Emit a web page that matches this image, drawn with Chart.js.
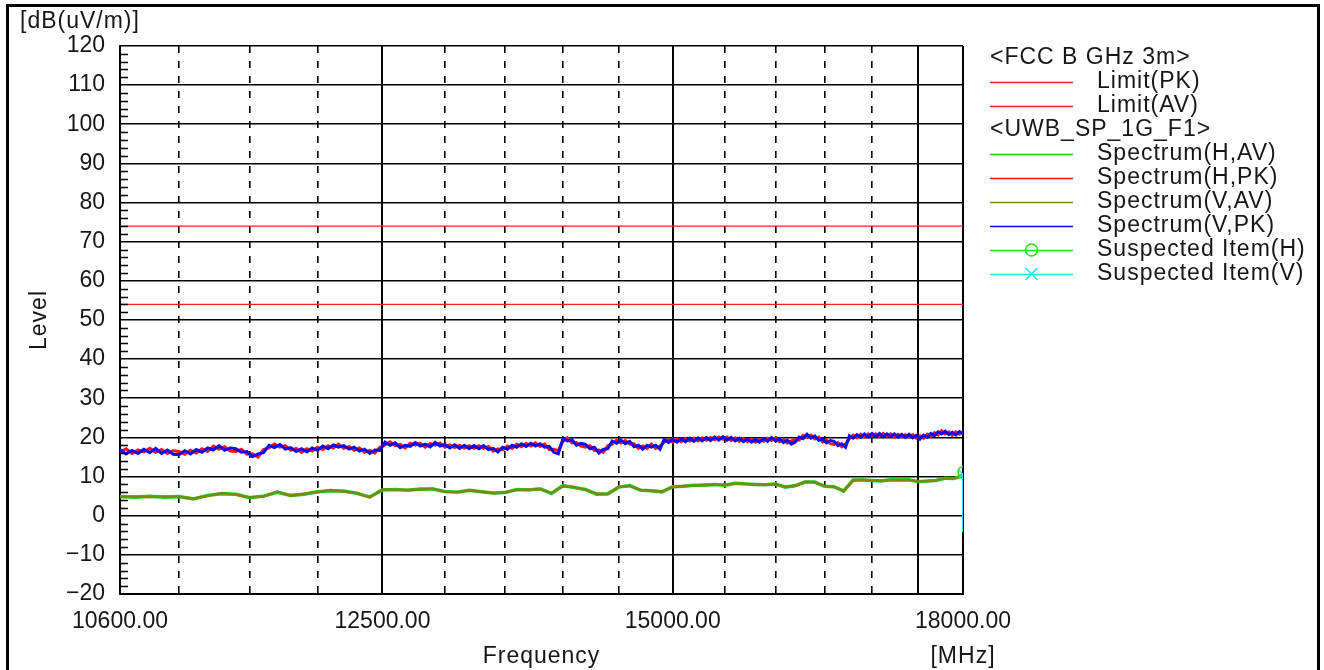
<!DOCTYPE html>
<html>
<head>
<meta charset="utf-8">
<title>Spectrum 10.6 - 18 GHz</title>
<script src="https://cdn.jsdelivr.net/npm/chart.js@4.4.0/dist/chart.umd.min.js"></script>
<style>
  html, body { margin: 0; padding: 0; background: #fff; }
  body { width: 1324px; height: 670px; overflow: hidden; position: relative; }
  #frame { position: absolute; left: 6px; top: 4px; width: 1308px; height: 700px; border: 3px solid #000; }
  #wrap { position: absolute; left: 0; top: 0; width: 1324px; height: 670px; }
</style>
</head>
<body>
<div id="frame"></div>
<div id="wrap"><canvas id="chart" width="1324" height="670"></canvas></div>
<script>
(function () {
  'use strict';

  // ── Data ──────────────────────────────────────────────────────────
  var sweepStart = 10600;   // MHz
  var pkStep = 40;          // MHz between peak-detector samples
  var avStep = 100;         // MHz between average-detector samples

  var xGridValues = [10600, 11000, 11500, 12000, 12500, 13000, 13500, 14000, 14500,
    15000, 15500, 16000, 16500, 17000, 17500, 18000];
  var xLabelValues = [10600, 12500, 15000, 18000];
  var xMajorValues = [10600, 12500, 15000, 17500, 18000];

  var limitPK = 74;
  var limitAV = 54;

  var specVPK = [
    16.9, 15.8, 16.7, 15.9, 17.0, 16.1, 17.2, 15.9, 16.8, 15.7,
    15.6, 16.6, 15.8, 16.9, 16.2, 17.3, 16.8, 17.9, 16.7, 17.3,
    17.1, 16.2, 16.4, 15.1, 15.8, 16.1, 18.0, 17.4, 18.2, 17.0,
    17.4, 16.4, 17.1, 16.3, 17.3, 16.7, 17.8, 17.1, 18.1, 17.5,
    17.9, 17.0, 17.5, 16.5, 17.0, 15.9, 16.8, 16.7, 18.8, 18.0,
    18.6, 17.4, 18.0, 17.7, 18.7, 17.8, 18.3, 17.6, 18.7, 17.8,
    18.2, 17.3, 18.1, 17.2, 18.0, 17.1, 17.9, 17.1, 17.9, 16.9,
    17.2, 16.3, 17.5, 17.0, 18.0, 17.5, 18.4, 17.7, 18.5, 17.8,
    18.4, 17.5, 17.7, 16.2, 15.8, 19.7, 19.1, 19.4, 18.0, 18.5,
    18.2, 17.1, 17.5, 16.0, 17.0, 17.1, 19.1, 18.5, 19.3, 18.4,
    19.0, 17.6, 18.0, 17.0, 18.0, 17.5, 18.0, 17.0, 19.5, 18.7,
    19.5, 18.8, 19.7, 18.9, 19.8, 19.0, 19.9, 19.1, 20.0, 19.2,
    20.1, 19.3, 20.2, 19.3, 20.0, 19.1, 19.8, 18.9, 19.6, 18.8,
    19.5, 18.8, 19.7, 19.0, 20.0, 19.1, 19.7, 18.7, 19.3, 18.3,
    18.8, 20.1, 19.7, 20.8, 19.8, 20.4, 19.3, 19.6, 18.6, 19.2,
    19.0, 17.9, 18.4, 17.5, 20.4, 19.8, 20.7, 20.0, 20.9, 20.1,
    21.0, 20.2, 21.0, 20.2, 20.9, 20.2, 20.9, 20.1, 20.8, 20.0,
    20.8, 19.9, 20.5, 19.6, 20.6, 20.0, 21.0, 20.4, 21.4, 20.9,
    21.6, 20.7, 21.3, 20.6, 21.5, 20.9
  ];

  var specHPK = [
    16.2, 17.1, 15.9, 16.8, 16.3, 17.2, 16.2, 16.9, 15.9, 16.6,
    16.4, 15.7, 16.7, 16.0, 17.1, 16.4, 17.8, 17.0, 17.6, 16.5,
    16.4, 17.0, 15.7, 15.8, 15.0, 16.9, 17.3, 18.3, 17.5, 17.9,
    16.7, 17.2, 16.2, 17.1, 16.5, 17.5, 16.9, 17.9, 17.3, 18.3,
    17.2, 17.7, 16.7, 17.3, 16.2, 16.7, 16.0, 17.5, 18.1, 18.9,
    17.9, 18.2, 17.3, 18.5, 18.0, 18.5, 17.5, 18.4, 18.0, 18.6,
    17.5, 18.1, 17.4, 18.0, 17.3, 17.9, 17.2, 17.9, 17.2, 17.7,
    16.5, 17.1, 16.8, 17.8, 17.2, 18.3, 17.6, 18.5, 17.8, 18.6,
    17.7, 18.3, 16.9, 17.0, 16.6, 19.0, 19.9, 18.6, 18.7, 17.8,
    17.5, 17.9, 16.7, 16.8, 16.2, 17.9, 18.3, 19.3, 18.6, 19.2,
    18.3, 18.4, 17.2, 17.8, 17.2, 18.3, 17.2, 17.8, 18.8, 19.5,
    18.8, 19.6, 18.9, 19.7, 19.1, 19.8, 19.1, 19.9, 19.3, 20.0,
    19.4, 20.1, 19.5, 20.1, 19.2, 19.9, 19.0, 19.7, 18.9, 19.6,
    18.8, 19.5, 19.0, 19.8, 19.2, 19.9, 18.9, 19.5, 18.6, 19.1,
    19.5, 19.3, 20.5, 20.0, 20.6, 19.6, 20.1, 18.8, 19.4, 18.4,
    18.2, 18.7, 17.6, 18.3, 19.7, 20.6, 19.9, 20.8, 20.1, 20.9,
    20.3, 20.9, 20.2, 21.0, 20.3, 20.9, 20.1, 20.8, 20.1, 20.7,
    20.1, 20.7, 19.8, 20.4, 19.8, 20.8, 20.2, 21.2, 20.6, 21.7,
    20.9, 21.4, 20.5, 21.4, 20.8, 21.4
  ];

  var specVAV = [
    4.8, 4.9, 4.8, 4.9, 4.8, 4.4, 5.0, 5.8, 5.4, 4.7,
    4.9, 6.2, 5.1, 5.6, 6.0, 6.6, 6.2, 5.8, 4.7, 6.8,
    6.6, 6.6, 6.7, 6.9, 6.1, 6.1, 6.4, 6.2, 5.7, 6.0,
    6.6, 6.7, 6.8, 5.8, 7.5, 7.3, 6.6, 5.6, 5.5, 7.4,
    7.6, 6.6, 6.3, 6.2, 7.3, 7.6, 7.7, 7.9, 7.9, 7.9,
    8.2, 8.2, 7.9, 8.0, 8.0, 7.4, 7.6, 8.7, 8.5, 7.6,
    7.3, 6.4, 9.0, 9.2, 8.9, 9.0, 9.1, 9.2, 9.1, 8.8,
    8.8, 9.1, 9.5, 9.6, 9.9
  ];

  var specHAV = [
    4.9, 4.7, 5.0, 4.7, 4.9, 4.3, 5.2, 5.6, 5.5, 4.6,
    5.0, 6.0, 5.2, 5.5, 6.1, 6.4, 6.3, 5.7, 4.8, 6.6,
    6.7, 6.5, 6.8, 6.8, 6.2, 6.0, 6.5, 6.1, 5.8, 5.9,
    6.7, 6.6, 6.9, 5.7, 7.7, 7.2, 6.7, 5.5, 5.6, 7.3,
    7.7, 6.5, 6.4, 6.1, 7.4, 7.5, 7.8, 7.8, 8.0, 7.8,
    8.3, 8.1, 8.0, 7.9, 8.1, 7.3, 7.7, 8.6, 8.6, 7.5,
    7.4, 6.3, 9.1, 9.1, 9.0, 8.9, 9.2, 9.1, 9.2, 8.7,
    8.9, 9.0, 9.6, 9.5, 10.4
  ];

  // suspected items found at the band edge
  var suspectH = [{ x: 18000, y: 11.2 }];
  var suspectV = [{ x: 18000, y: 10.6 }, { x: 18000, y: -4.2 }];

  var legendGroups = ['<FCC B GHz 3m>', '<UWB_SP_1G_F1>'];

  var textColor = '#161616';
  var fontFamily = '"Liberation Sans", Arial, sans-serif';

  /** Pair a value list with the analyzer sweep frequencies */
  function sweep(values, step) {
    return values.map(function (v, i) { return { x: sweepStart + i * step, y: v }; });
  }

  /** Horizontal line across the whole span */
  function flat(v) {
    return [{ x: xGridValues[0], y: v }, { x: xGridValues[xGridValues.length - 1], y: v }];
  }

  function isMajorX(v) {
    return xMajorValues.indexOf(v) >= 0;
  }

  // ── Extra drawing: minor ticks, legend, unit labels ──────────────
  var decorations = {
    id: 'decorations',
    afterDraw: function (chart) {
      var ctx = chart.ctx;
      var area = chart.chartArea;
      var ys = chart.scales.y;

      ctx.save();

      // minor ticks inside the left axis
      ctx.strokeStyle = '#000';
      ctx.lineWidth = 1.5;
      ys.ticks.forEach(function (t) {
        if (t.value % 10 === 0) return;
        var py = Math.round(ys.getPixelForValue(t.value)) + 0.5;
        ctx.beginPath();
        ctx.moveTo(area.left, py);
        ctx.lineTo(area.left + 8, py);
        ctx.stroke();
      });

      ctx.fillStyle = textColor;
      ctx.font = '23px ' + fontFamily;
      ctx.textBaseline = 'middle';
      ctx.letterSpacing = '1px';

      // unit labels and axis titles
      ctx.textAlign = 'left';
      ctx.fillText('[dB(uV/m)]', 20, 22);
      ctx.textAlign = 'center';
      ctx.fillText('Frequency', (area.left + area.right) / 2, 657);
      ctx.fillText('[MHz]', area.right, 657);
      ctx.save();
      ctx.translate(40, (area.top + area.bottom) / 2);
      ctx.rotate(-Math.PI / 2);
      ctx.fillText('Level', 0, 0);
      ctx.restore();

      // legend
      var lx0 = area.right + 27;
      var lx1 = area.right + 110;
      var tx = area.right + 134;
      var rowY = 58;
      var lastGroup = -1;
      ctx.textAlign = 'left';
      chart.data.datasets.forEach(function (ds) {
        if (ds.group !== lastGroup) {
          lastGroup = ds.group;
          ctx.fillStyle = textColor;
          ctx.fillText(legendGroups[ds.group], lx0, rowY);
          rowY += 24;
        }
        ctx.strokeStyle = ds.borderColor;
        ctx.lineWidth = 1.5;
        ctx.beginPath();
        ctx.moveTo(lx0, rowY + 0.5);
        ctx.lineTo(lx1, rowY + 0.5);
        ctx.stroke();
        var mx = (lx0 + lx1) / 2;
        if (ds.pointStyle === 'circle') {
          ctx.beginPath();
          ctx.arc(mx, rowY, 6, 0, Math.PI * 2);
          ctx.stroke();
        } else if (ds.pointStyle === 'crossRot') {
          ctx.beginPath();
          ctx.moveTo(mx - 6, rowY - 6);
          ctx.lineTo(mx + 6, rowY + 6);
          ctx.moveTo(mx + 6, rowY - 6);
          ctx.lineTo(mx - 6, rowY + 6);
          ctx.stroke();
        }
        ctx.fillStyle = textColor;
        ctx.fillText(ds.label, tx, rowY);
        rowY += 24;
      });

      ctx.restore();
    }
  };

  Chart.defaults.font.family = fontFamily;
  Chart.defaults.font.size = 23;
  Chart.defaults.color = textColor;

  new Chart(document.getElementById('chart'), {
    type: 'line',
    data: {
      datasets: [{
        label: 'Limit(PK)', group: 0, order: 9,
        data: flat(limitPK),
        borderColor: '#f22020', borderWidth: 1.2, pointRadius: 0
      }, {
        label: 'Limit(AV)', group: 0, order: 8,
        data: flat(limitAV),
        borderColor: '#f22020', borderWidth: 1.2, pointRadius: 0
      }, {
        label: 'Spectrum(H,AV)', group: 1, order: 7,
        data: sweep(specHAV, avStep),
        borderColor: '#1ecc1e', borderWidth: 3.5, pointRadius: 0
      }, {
        label: 'Spectrum(H,PK)', group: 1, order: 6,
        data: sweep(specHPK, pkStep),
        borderColor: '#ff1010', borderWidth: 3, pointRadius: 0
      }, {
        label: 'Spectrum(V,AV)', group: 1, order: 5,
        data: sweep(specVAV, avStep),
        borderColor: '#7a8a10', borderWidth: 2.4, pointRadius: 0
      }, {
        label: 'Spectrum(V,PK)', group: 1, order: 4,
        data: sweep(specVPK, pkStep),
        borderColor: '#0a0af5', borderWidth: 3, pointRadius: 0
      }, {
        label: 'Suspected Item(H)', group: 1, order: 2,
        data: suspectH, showLine: false,
        borderColor: '#1ee01e', backgroundColor: 'rgba(0,0,0,0)',
        pointStyle: 'circle', pointRadius: 5, pointBorderWidth: 1.5
      }, {
        label: 'Suspected Item(V)', group: 1, order: 1,
        data: suspectV,
        borderColor: '#20e8e8', backgroundColor: '#20e8e8', borderWidth: 2,
        pointStyle: 'crossRot', pointRadius: [6, 0], pointBorderWidth: 1.5
      }]
    },
    options: {
      responsive: false,
      animation: false,
      events: [],
      layout: { padding: { left: 20, right: 361, top: 46, bottom: 26 } },
      plugins: {
        legend: { display: false },
        tooltip: { enabled: false }
      },
      scales: {
        x: {
          type: 'logarithmic',
          min: 10600,
          max: 18000,
          afterBuildTicks: function (s) {
            s.ticks = xGridValues.map(function (v) { return { value: v }; });
          },
          afterFit: function (s) { s.height = 50; },
          ticks: {
            autoSkip: false,
            maxRotation: 0,
            padding: 14,
            color: textColor,
            callback: function (v) {
              return xLabelValues.indexOf(v) >= 0 ? v.toFixed(2) : '';
            }
          },
          grid: {
            drawTicks: false,
            color: '#000',
            lineWidth: function (c) {
              return c.tick && isMajorX(c.tick.value) ? 2 : 1.6;
            }
          },
          border: {
            color: '#000',
            width: 2,
            dash: function (c) {
              return c.tick && !isMajorX(c.tick.value) ? [7, 8] : [];
            }
          }
        },
        y: {
          min: -20,
          max: 120,
          afterFit: function (s) { s.width = 100; },
          ticks: {
            stepSize: 2,
            autoSkip: false,
            padding: 15,
            color: textColor,
            callback: function (v) {
              return v % 10 === 0 ? String(v).replace('-', '\u2212') : '';
            }
          },
          grid: {
            drawTicks: false,
            lineWidth: 1.6,
            color: function (c) {
              return c.tick && c.tick.value % 10 === 0 ? '#000' : 'rgba(0,0,0,0)';
            }
          },
          border: { color: '#000', width: 2 }
        }
      }
    },
    plugins: [decorations]
  });
})();
</script>
</body>
</html>
